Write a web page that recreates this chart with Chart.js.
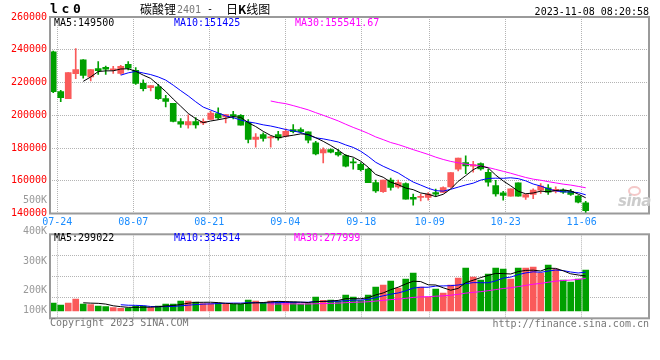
<!DOCTYPE html>
<html lang="zh-CN">
<head>
<meta charset="UTF-8">
<title>碳酸锂2401 - 日K线图</title>
<script src="https://cdn.jsdelivr.net/npm/chart.js"></script>
<style>
  body { margin: 0; background: #fff; }
  .wrap { position: relative; width: 660px; height: 360px; font-family: 'DejaVu Sans Mono', monospace; font-size: 10px; }
  canvas { position: absolute; left: 0; }
  #kline { top: 0; }
  #vol { top: 228px; }
  .t { position: absolute; white-space: nowrap; line-height: 12px; }
  .cjk { font-family: 'Noto Sans CJK SC', sans-serif; font-size: 12px; line-height: 14px; }
  .vl { position: absolute; right: 613px; color: #999; line-height: 12px; }
</style>
</head>
<body>
<div class="wrap">
  <canvas id="kline" width="660" height="228"></canvas>
  <canvas id="vol" width="660" height="132"></canvas>

  <!-- titulo -->
  <div class="t" style="left:50px;top:2px;font-weight:bold;font-size:13px;line-height:14px;letter-spacing:3.7px">lc0</div>
  <div class="t cjk" style="left:140px;top:2px">碳酸锂</div>
  <div class="t" style="left:177px;top:4px;color:#777">2401</div>
  <div class="t" style="left:207px;top:3px">-</div>
  <div class="t cjk" style="left:226px;top:2px">日<b>K</b>线图</div>
  <div class="t" style="right:11px;top:6px">2023-11-08 08:20:58</div>

  <!-- legendas -->
  <div class="t" style="left:54px;top:17px;color:#000">MA5:149500</div>
  <div class="t" style="left:174px;top:17px;color:#0000ff">MA10:151425</div>
  <div class="t" style="left:295px;top:17px;color:#ff00ff">MA30:155541.67</div>
  <div class="t" style="left:54px;top:232px;color:#000">MA5:299022</div>
  <div class="t" style="left:174px;top:232px;color:#0000ff">MA10:334514</div>
  <div class="t" style="left:294px;top:232px;color:#ff00ff">MA30:277999</div>

  <!-- rotulos de volume -->
  <div class="vl" style="top:194px">500K</div>
  <div class="vl" style="top:225px">400K</div>
  <div class="vl" style="top:255px">300K</div>
  <div class="vl" style="top:284px">200K</div>
  <div class="vl" style="top:304px">100K</div>

  <div class="t" style="left:50px;top:317px;color:#777">Copyright 2023 SINA.COM</div>
  <div class="t" style="right:11px;top:318px;color:#777">http://finance.sina.com.cn</div>

  <!-- marca d'agua -->
  <div style="position:absolute;left:628px;top:186px;width:9px;height:6px;border:2px solid #f4c8c8;border-radius:50%"></div>
  <div class="t" style="left:618px;top:192px;font:italic bold 15px 'DejaVu Sans';color:#cccccc;letter-spacing:-0.5px">sina</div>
</div>

<script>
  const dates = [
    '07-21','07-24','07-25','07-26','07-27','07-28','07-31',
    '08-01','08-02','08-03','08-04','08-07','08-08','08-09','08-10','08-11',
    '08-14','08-15','08-16','08-17','08-18','08-21','08-22','08-23','08-24','08-25',
    '08-28','08-29','08-30','08-31','09-01','09-04','09-05','09-06','09-07','09-08',
    '09-11','09-12','09-13','09-14','09-15','09-18','09-19','09-20','09-21','09-22',
    '09-25','09-26','09-27','09-28','10-09','10-10','10-11','10-12','10-13',
    '10-16','10-17','10-18','10-19','10-20','10-23','10-24','10-25','10-26','10-27',
    '10-30','10-31','11-01','11-02','11-03','11-06','11-07'
  ];
  const tickDates = ['07-24','08-07','08-21','09-04','09-18','10-09','10-23','11-06'];

  const openP = [
    238800,214400,210200,225400,233800,223400,228500,229300,227700,225600,
    231100,227500,219500,216900,217300,210200,207300,196100,194100,196100,
    195300,197400,201000,199000,200400,200000,195700,185200,188200,186200,
    188200,187200,191300,191300,189800,183100,177000,179100,177400,175400,
    171100,170100,167100,158900,153400,160400,156300,158300,149800,149800,
    149800,152800,152800,156300,167100,171100,168900,170500,165200,157100,
    152600,150600,158700,150000,151600,154300,155700,153600,154300,153600,
    150600,146500
  ];
  const highP = [
    239200,215200,226000,240700,234000,227900,232700,230100,229900,230500,
    232700,229100,221600,218100,218900,212200,207300,198000,200200,198600,
    197800,202400,204500,200400,202400,200400,197400,188800,189200,187200,
    190200,191700,194300,192300,189800,184100,180100,179500,179100,176000,
    173500,171100,167700,160400,160400,161600,160400,158700,151800,151800,
    152800,154900,156300,165000,173800,175200,171900,170900,166900,160300,
    153600,155100,158700,151600,155100,158300,157700,156300,155100,154700,
    151000,147500
  ];
  const lowP = [
    213800,208300,210200,222400,222600,221000,225000,225000,225600,225000,
    227700,218900,214800,214800,209600,205100,196000,192500,192100,192100,
    194300,197400,197400,195300,197800,193900,183100,180500,184100,180500,
    184800,186800,189200,189200,183100,175800,170900,177000,175000,168500,
    167100,166000,158900,152800,152800,154300,155500,148800,145100,147700,
    148200,150400,152800,155900,166000,164400,165200,166400,156700,150600,
    148200,150600,150600,148600,149000,152200,151600,152600,152200,151000,
    146500,140400
  ];
  const closeP = [
    214400,210800,226000,227900,224400,227900,227200,228100,228100,229900,
    228700,219500,216300,218100,210200,208500,196300,194500,196100,194100,
    196300,201400,198400,200400,199400,193900,185200,186600,185800,186800,
    186200,190200,190000,190000,184800,176400,179100,177400,175800,168900,
    170900,166700,158900,153800,160400,155900,158900,148800,148800,150400,
    151800,151800,155900,165000,173800,169100,169900,167300,159100,152000,
    151000,155100,150600,151600,154300,156700,153000,154700,153000,151600,
    146900,141800
  ];
  const volume = [
    68800,51600,68800,103200,60200,54500,43000,37300,28700,22900,
    25800,43000,43000,28700,43000,60200,60200,86000,86000,77400,
    63900,63900,68800,57300,57300,57300,94600,86000,68800,86000,
    80300,80300,77400,60200,63900,120400,91000,94600,86000,137600,
    120400,88800,137600,206400,223600,258000,197800,275200,326800,206400,
    120400,189200,154800,223600,283800,369800,292400,266600,318200,369800,
    361200,275200,369800,369800,378400,326800,395600,361200,266600,249400,
    275200,352600
  ];

  const UP = '#fa5a5a';
  const DOWN = '#00a000';
  const cores = closeP.map((c, i) => c >= openP[i] ? UP : DOWN);

  function media(arr, n) {
    const out = [];
    for (let i = n - 1; i < arr.length; i++) {
      let s = 0;
      for (let j = i - n + 1; j <= i; j++) s += arr[j];
      out.push({ x: i, y: s / n });
    }
    return out;
  }

  function linha(data, cor) {
    return {
      type: 'line', data: data, borderColor: cor, borderWidth: 1,
      pointRadius: 0, tension: 0, order: 0
    };
  }

  Chart.defaults.font.family = "'DejaVu Sans Mono', monospace";
  Chart.defaults.font.size = 10;

  const moldura = {
    id: 'moldura',
    afterDraw(chart) {
      const { ctx, chartArea: a } = chart;
      ctx.save();
      ctx.strokeStyle = '#9a9a9a';
      ctx.lineWidth = 2;
      ctx.strokeRect(a.left, a.top, a.right - a.left, a.bottom - a.top);
      ctx.restore();
    }
  };

  function grade() {
    return { color: '#b4b4b4', lineWidth: 1, drawTicks: false, offset: false };
  }
  // eixo dos dados (candles, volume, medias)
  function eixoX() {
    return {
      type: 'linear', min: -0.43, max: 79.44, offset: false, display: false,
      grid: { offset: false }
    };
  }
  // eixo so das datas e da grade vertical
  function eixoDatas(mostrar) {
    return {
      type: 'linear', position: 'bottom', min: 0.04, max: 78.86, offset: false,
      afterBuildTicks: s => { s.ticks = tickDates.map(d => ({ value: dates.indexOf(d) })); },
      afterFit: s => { s.height = mostrar ? 14.5 : 0; },
      grid: grade(),
      border: { display: false, dash: [1, 1] },
      ticks: {
        display: mostrar, color: '#1a8cff', padding: 3, maxRotation: 0, autoSkip: false,
        callback: v => dates[v]
      }
    };
  }

  new Chart(document.getElementById('kline').getContext('2d'), {
    data: {
      datasets: [
        {
          type: 'bar', order: 1, grouped: false, barThickness: 6, minBarLength: 1,
          data: openP.map((o, i) => ({ x: i, y: [o, closeP[i]] })),
          backgroundColor: cores
        },
        {
          type: 'bar', order: 2, grouped: false, barThickness: 1,
          data: lowP.map((l, i) => ({ x: i, y: [l, highP[i]] })),
          backgroundColor: cores
        },
        linha(media(closeP, 5), '#000000'),
        linha(media(closeP, 10), '#0000ff'),
        linha(media(closeP, 30), '#ff00ff')
      ]
    },
    options: {
      responsive: false,
      animation: false,
      layout: { padding: { left: 0, right: 11, top: 17, bottom: 0 } },
      plugins: { legend: { display: false }, tooltip: { enabled: false } },
      scales: {
        x: eixoX(),
        xd: eixoDatas(true),
        y: {
          min: 140000, max: 260000,
          afterFit: s => { s.width = 50; },
          grid: grade(),
          border: { display: false, dash: [1, 1] },
          ticks: { stepSize: 20000, color: '#ff0000', padding: 3, callback: v => String(v) }
        }
      }
    },
    plugins: [moldura]
  });

  new Chart(document.getElementById('vol').getContext('2d'), {
    data: {
      datasets: [
        {
          type: 'bar', order: 1, grouped: false, barThickness: 6,
          data: volume.map((v, i) => ({ x: i, y: v })),
          backgroundColor: cores
        },
        linha(media(volume, 5), '#000000'),
        linha(media(volume, 10), '#0000ff'),
        linha(media(volume, 30), '#ff00ff')
      ]
    },
    options: {
      responsive: false,
      animation: false,
      layout: { padding: { left: 0, right: 11, top: 6.3, bottom: 41.7 } },
      plugins: { legend: { display: false }, tooltip: { enabled: false } },
      scales: {
        x: eixoX(),
        xd: eixoDatas(false),
        y: {
          min: -62800, max: 659600,
          afterFit: s => { s.width = 50; },
          grid: grade(),
          border: { display: false, dash: [1, 1] },
          ticks: { count: 5, display: false }
        }
      }
    },
    plugins: [moldura]
  });
</script>
</body>
</html>
